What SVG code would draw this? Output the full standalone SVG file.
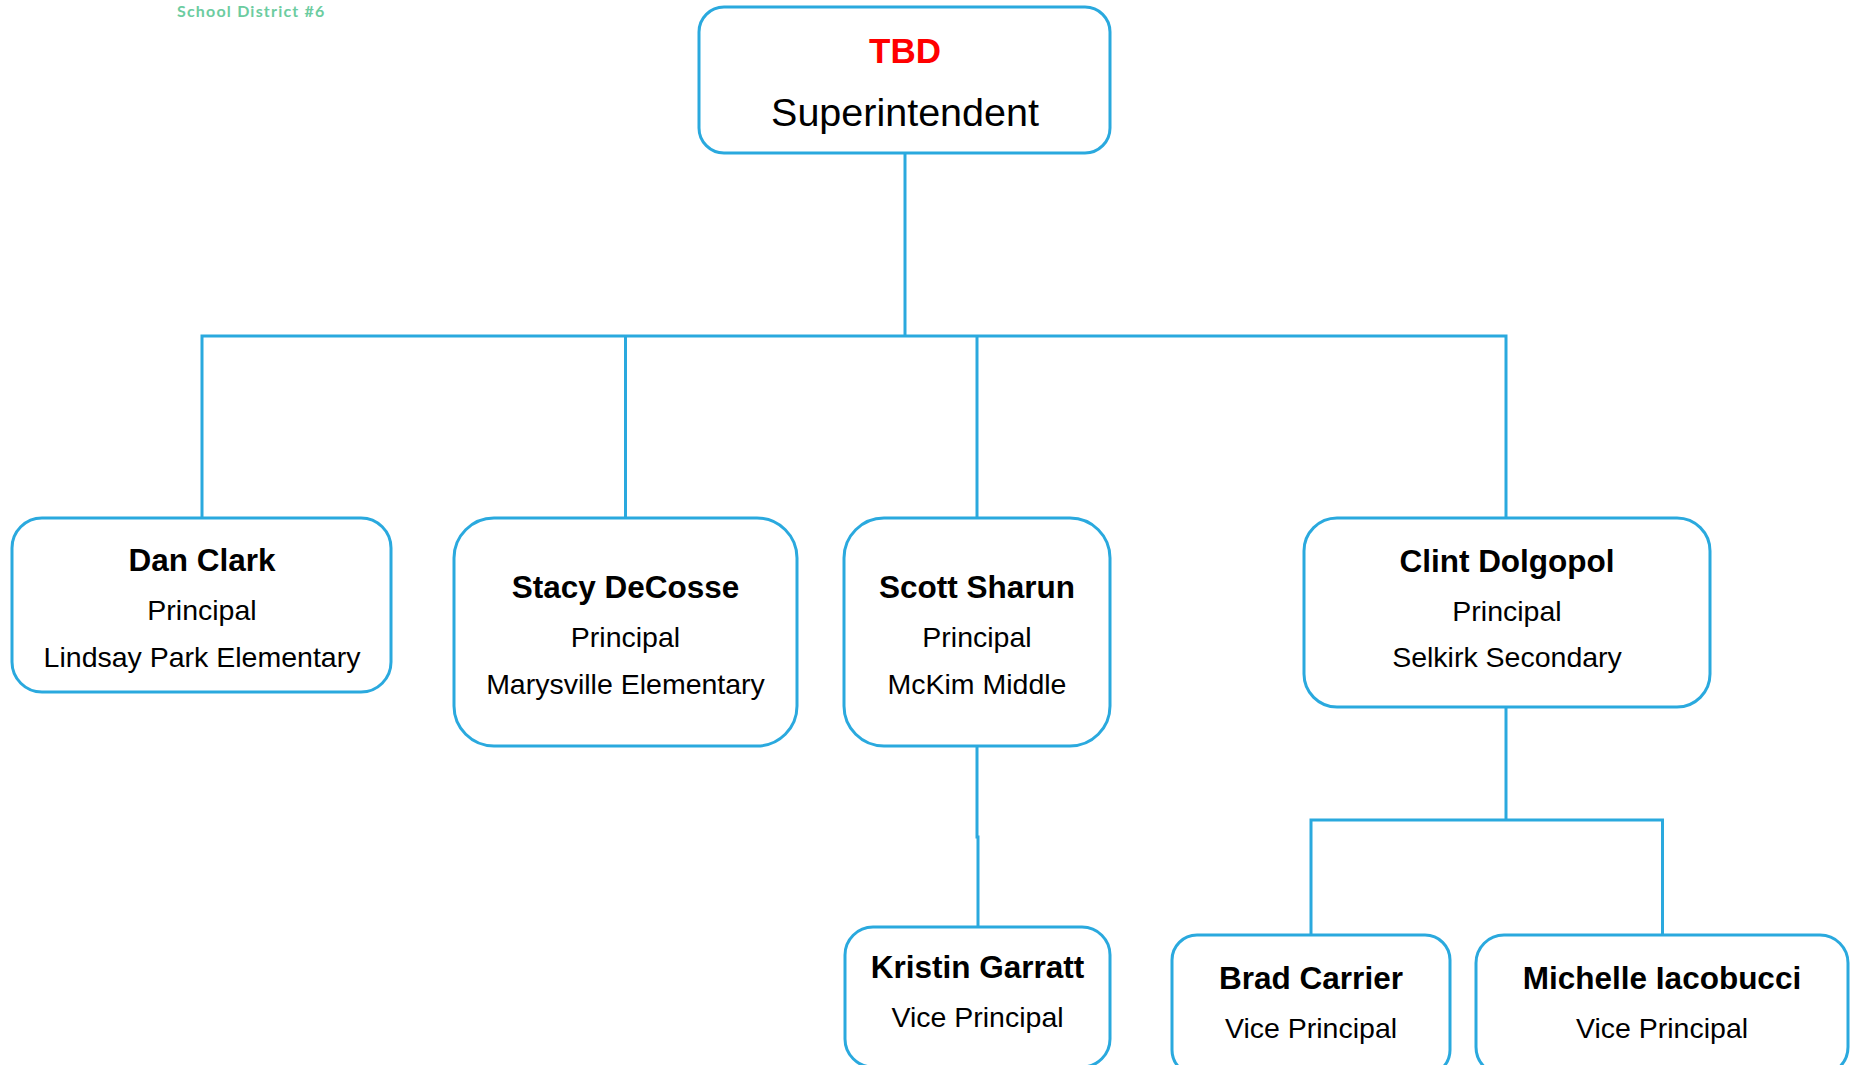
<svg xmlns="http://www.w3.org/2000/svg" width="1854" height="1065" viewBox="0 0 1854 1065">
<style>
.box{fill:#fff;stroke:#2aa9de;stroke-width:3}
.con{fill:none;stroke:#2aa9de;stroke-width:3}
text{font-family:"Liberation Sans",Arial,sans-serif;text-anchor:middle;fill:#000}
.nm{font-weight:bold;font-size:31.5px}
.rl{font-size:28.5px}
.hdr{font-family:Lato,"Liberation Sans",sans-serif;font-weight:bold;font-size:16px;letter-spacing:1.2px;fill:#6ccca0;text-anchor:start}
</style>
<rect width="1854" height="1065" fill="#fff"/>
<text class="hdr" x="177" y="17">School District #6</text>
<g id="connectors">
<path class="con" d="M905,153 V336"/>
<path class="con" d="M202,518 V336 H1506 V518"/>
<path class="con" d="M625.5,336 V518"/>
<path class="con" d="M977,336 V518"/>
<path class="con" d="M977,746 V837 H978 V927"/>
<path class="con" d="M1506,707 V820"/>
<path class="con" d="M1311,935 V820 H1662.5 V935"/>
</g>
<g id="superintendent">
<rect class="box" x="699" y="7" width="411" height="146" rx="25"/>
<text x="905" y="63" style="font-weight:bold;font-size:35px;fill:#ff0000">TBD</text>
<text x="905" y="126" style="font-size:39.5px">Superintendent</text>
</g>
<g id="dan-clark">
<rect class="box" x="12" y="518" width="379" height="174" rx="30"/>
<text class="nm" x="202" y="571">Dan Clark</text>
<text class="rl" x="202" y="620">Principal</text>
<text class="rl" x="202" y="667">Lindsay Park Elementary</text>
</g>
<g id="stacy-decosse">
<rect class="box" x="454" y="518" width="343" height="228" rx="40"/>
<text class="nm" x="625.5" y="598">Stacy DeCosse</text>
<text class="rl" x="625.5" y="647">Principal</text>
<text class="rl" x="625.5" y="694">Marysville Elementary</text>
</g>
<g id="scott-sharun">
<rect class="box" x="844" y="518" width="266" height="228" rx="40"/>
<text class="nm" x="977" y="598">Scott Sharun</text>
<text class="rl" x="977" y="647">Principal</text>
<text class="rl" x="977" y="694">McKim Middle</text>
</g>
<g id="clint-dolgopol">
<rect class="box" x="1304" y="518" width="406" height="189" rx="33"/>
<text class="nm" x="1507" y="572">Clint Dolgopol</text>
<text class="rl" x="1507" y="621">Principal</text>
<text class="rl" x="1507" y="667">Selkirk Secondary</text>
</g>
<g id="kristin-garratt">
<rect class="box" x="845" y="927" width="265" height="140" rx="28"/>
<text class="nm" x="977.5" y="978">Kristin Garratt</text>
<text class="rl" x="977.5" y="1027">Vice Principal</text>
</g>
<g id="brad-carrier">
<rect class="box" x="1172" y="935" width="278" height="140" rx="25"/>
<text class="nm" x="1311" y="989">Brad Carrier</text>
<text class="rl" x="1311" y="1038">Vice Principal</text>
</g>
<g id="michelle-iacobucci">
<rect class="box" x="1476" y="935" width="372" height="140" rx="28"/>
<text class="nm" x="1662" y="989">Michelle Iacobucci</text>
<text class="rl" x="1662" y="1038">Vice Principal</text>
</g>
</svg>
